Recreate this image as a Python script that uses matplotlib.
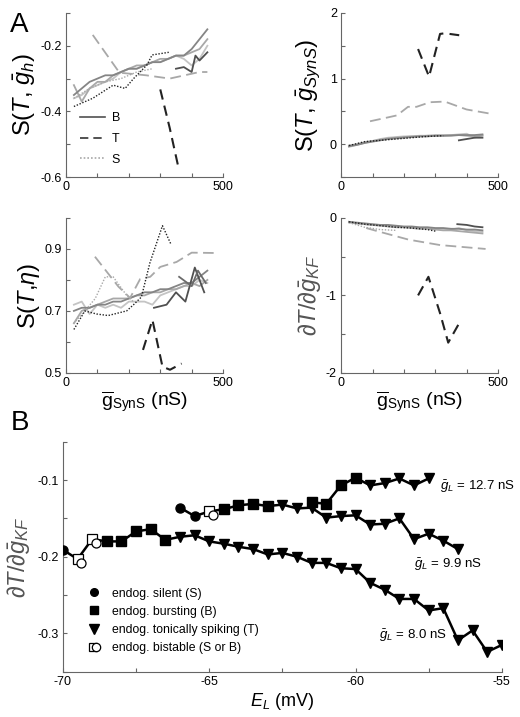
import numpy as np
import matplotlib
matplotlib.use("Agg")
import matplotlib.pyplot as plt
from matplotlib.legend_handler import HandlerTuple
from matplotlib.lines import Line2D

plt.rcParams['font.family'] = ['Liberation Sans', 'DejaVu Sans']
plt.rcParams['mathtext.fontset'] = 'custom'
plt.rcParams['mathtext.rm'] = 'Liberation Sans'
plt.rcParams['mathtext.it'] = 'Liberation Sans:italic'
plt.rcParams['mathtext.bf'] = 'Liberation Sans:bold'

# ---------------- panel A data (gSynS grid, nS) ----------------
xg = np.arange(25, 451, 25)

# S(T, gh)
gh_b1 = [-0.35, -0.33, -0.31, -0.30, -0.29, -0.29, -0.28, -0.27, -0.27, -0.26, -0.25, -0.25, -0.24, -0.23, -0.23, -0.21, -0.18, -0.15]
gh_b2 = [-0.32, -0.37, -0.33, -0.31, -0.31, -0.29, -0.28, -0.27, -0.26, -0.26, -0.25, -0.24, -0.24, -0.23, -0.23, -0.22, -0.21, -0.18]
gh_b3 = [-0.36, -0.35, -0.33, -0.32, -0.31, -0.30, -0.28, -0.27, -0.27, -0.26, -0.25, -0.25, -0.24, -0.23, -0.24, -0.26, -0.24, -0.20]
gh_b4_x = [350, 375, 400, 412, 425, 450]
gh_b4 = [-0.27, -0.265, -0.28, -0.23, -0.245, -0.22]
gh_t1_x = [85, 170, 255, 330, 425, 450]
gh_t1 = [-0.167, -0.282, -0.29, -0.30, -0.28, -0.28]
gh_t2_x = [300, 330, 360]
gh_t2 = [-0.333, -0.45, -0.58]
gh_s1_x = [25, 85, 150, 188, 215, 258, 274, 327]
gh_s1 = [-0.385, -0.36, -0.32, -0.33, -0.30, -0.258, -0.228, -0.22]
gh_s2_x = [25, 75, 125, 175, 225, 275]
gh_s2 = [-0.36, -0.33, -0.31, -0.30, -0.28, -0.27]

# S(T, gSynS)
gs_b1 = [-0.03, -0.01, 0.02, 0.04, 0.06, 0.08, 0.09, 0.10, 0.11, 0.12, 0.12, 0.13, 0.13, 0.13, 0.14, 0.14, 0.14, 0.15]
gs_b2 = [-0.02, 0.00, 0.03, 0.05, 0.07, 0.09, 0.10, 0.11, 0.12, 0.12, 0.13, 0.13, 0.13, 0.14, 0.14, 0.13, 0.12, 0.13]
gs_b3 = [-0.04, -0.01, 0.02, 0.05, 0.08, 0.10, 0.11, 0.12, 0.12, 0.13, 0.13, 0.14, 0.14, 0.14, 0.15, 0.16, 0.10, 0.14]
gs_b4_x = [375, 400, 425, 450]
gs_b4 = [0.06, 0.08, 0.10, 0.10]
gs_t1_x = [92, 150, 178, 213, 240, 283, 330, 399, 470]
gs_t1 = [0.35, 0.41, 0.44, 0.57, 0.57, 0.64, 0.65, 0.53, 0.47]
gs_t2_x = [245, 280, 315, 330, 376]
gs_t2 = [1.45, 1.03, 1.68, 1.69, 1.66]
gs_s1_x = [25, 75, 125, 175, 225, 275, 325]
gs_s1 = [-0.02, 0.04, 0.06, 0.08, 0.10, 0.12, 0.13]

# S(T, eta)
eta_b1 = [0.70, 0.71, 0.71, 0.72, 0.72, 0.73, 0.73, 0.74, 0.75, 0.76, 0.76, 0.77, 0.77, 0.78, 0.79, 0.79, 0.81, 0.83]
eta_b2 = [0.66, 0.70, 0.71, 0.72, 0.73, 0.74, 0.74, 0.74, 0.75, 0.75, 0.76, 0.76, 0.77, 0.77, 0.78, 0.79, 0.78, 0.80]
eta_b3 = [0.72, 0.73, 0.69, 0.72, 0.71, 0.72, 0.71, 0.73, 0.73, 0.73, 0.72, 0.75, 0.76, 0.77, 0.78, 0.78, 0.80, 0.79]
eta_b4_x = [280, 320, 350, 380, 410, 440]
eta_b4 = [0.71, 0.72, 0.76, 0.73, 0.84, 0.76]
eta_b5_x = [360, 400, 420, 445]
eta_b5 = [0.81, 0.78, 0.83, 0.79]
eta_t1_x = [92, 140, 167, 204, 236, 268, 300, 352, 400, 470]
eta_t1 = [0.875, 0.813, 0.778, 0.742, 0.803, 0.81, 0.842, 0.858, 0.888, 0.887]
eta_t2_x = [245, 275, 307, 331, 368]
eta_t2 = [0.574, 0.671, 0.52, 0.51, 0.53]
eta_s1_x = [25, 60, 97, 134, 193, 215, 240, 267, 307, 335]
eta_s1 = [0.64, 0.70, 0.69, 0.685, 0.70, 0.72, 0.745, 0.855, 0.975, 0.913]
eta_s2_x = [25, 60, 93, 125, 150, 193, 214]
eta_s2 = [0.66, 0.70, 0.74, 0.81, 0.81, 0.75, 0.73]

# dT/dgKF
kf_b1 = [-0.05, -0.06, -0.07, -0.08, -0.09, -0.09, -0.10, -0.11, -0.11, -0.12, -0.12, -0.13, -0.13, -0.14, -0.14, -0.15, -0.15, -0.16]
kf_b2 = [-0.05, -0.07, -0.08, -0.09, -0.10, -0.11, -0.12, -0.12, -0.13, -0.14, -0.14, -0.15, -0.16, -0.16, -0.17, -0.18, -0.19, -0.20]
kf_b3 = [-0.06, -0.07, -0.08, -0.09, -0.09, -0.10, -0.11, -0.12, -0.12, -0.13, -0.13, -0.14, -0.14, -0.15, -0.13, -0.16, -0.17, -0.18]
kf_b4_x = [370, 400, 425, 450]
kf_b4 = [-0.08, -0.09, -0.11, -0.12]
kf_t1_x = [80, 115, 215, 315, 460]
kf_t1 = [-0.13, -0.17, -0.28, -0.35, -0.40]
kf_t2_x = [245, 278, 315, 341, 373]
kf_t2 = [-1.0, -0.76, -1.23, -1.61, -1.38]
kf_s1_x = [25, 75, 125, 175, 225, 275, 300]
kf_s1 = [-0.05, -0.08, -0.10, -0.12, -0.13, -0.15, -0.17]
kf_s2_x = [25, 75, 125, 175]
kf_s2 = [-0.06, -0.12, -0.15, -0.16]

# ---------------- panel B data ----------------
el_80 = np.arange(-70, -54.9, 0.5)
dT_80 = [-0.191, -0.203, -0.177, -0.180, -0.180, -0.167, -0.164, -0.178, -0.174, -0.172,
         -0.180, -0.183, -0.187, -0.190, -0.197, -0.195, -0.200, -0.208, -0.208, -0.215,
         -0.216, -0.234, -0.243, -0.255, -0.255, -0.270, -0.267, -0.309, -0.296, -0.324, -0.315]
st_80 = ['S', 'X', 'X'] + ['B'] * 5 + ['T'] * 23

el_99 = np.arange(-66, -56.4, 0.5)
dT_99 = [-0.136, -0.147, -0.141, -0.138, -0.133, -0.131, -0.134, -0.132, -0.137, -0.136,
         -0.149, -0.147, -0.146, -0.158, -0.157, -0.150, -0.177, -0.170, -0.179, -0.190]
st_99 = ['S', 'S', 'X'] + ['B'] * 4 + ['T'] * 13

el_127 = np.arange(-61.5, -57.4, 0.5)
dT_127 = [-0.129, -0.131, -0.107, -0.097, -0.107, -0.104, -0.098, -0.107, -0.098]
st_127 = ['B'] * 4 + ['T'] * 5

gl_labels = ['12.7', '9.9', '8.0']

# ---------------- figure ----------------
fig = plt.figure(figsize=(5.2, 7.17), dpi=100)

ax1 = fig.add_axes([0.127, 0.753, 0.302, 0.229])
ax2 = fig.add_axes([0.656, 0.753, 0.302, 0.229])
ax3 = fig.add_axes([0.127, 0.480, 0.302, 0.216])
ax4 = fig.add_axes([0.656, 0.480, 0.302, 0.216])
axB = fig.add_axes([0.121, 0.063, 0.844, 0.321])

spine_c = '#666666'
for ax in [ax1, ax2, ax3, ax4, axB]:
    ax.spines['top'].set_visible(False)
    ax.spines['right'].set_visible(False)
    ax.spines['left'].set_color(spine_c)
    ax.spines['bottom'].set_color(spine_c)
    ax.tick_params(direction='in', length=3, width=0.8, color=spine_c, labelsize=9, pad=3)

c_dark = '#505050'
c_mid = '#858585'
c_light = '#a8a8a8'
c_pale = '#c4c4c4'
lw = 1.3


def draw_A(ax, b1, b2, b3, b4x, b4, t1x, t1, t2x, t2, s1x, s1, s2x=None, s2=None):
    ax.plot(xg, b3, color=c_pale, lw=lw)
    ax.plot(xg, b2, color=c_light, lw=lw)
    ax.plot(xg, b1, color=c_mid, lw=lw)
    ax.plot(b4x, b4, color=c_dark, lw=lw)
    if s2x is not None:
        ax.plot(s2x, s2, color=c_light, lw=1.0, ls=(0, (1, 1.2)))
    ax.plot(t1x, t1, color=c_light, lw=lw, ls=(0, (6, 3)))
    ax.plot(t2x, t2, color='#222222', lw=1.5, ls=(0, (5, 3)))
    ax.plot(s1x, s1, color='#222222', lw=1.0, ls=(0, (1, 1.2)))
    ax.set_xlim(0, 500)
    ax.set_xticks(np.arange(0, 501, 100))
    ax.set_xticklabels(['0', '', '', '', '', '500'])


draw_A(ax1, gh_b1, gh_b2, gh_b3, gh_b4_x, gh_b4, gh_t1_x, gh_t1, gh_t2_x, gh_t2, gh_s1_x, gh_s1, gh_s2_x, gh_s2)
draw_A(ax2, gs_b1, gs_b2, gs_b3, gs_b4_x, gs_b4, gs_t1_x, gs_t1, gs_t2_x, gs_t2, gs_s1_x, gs_s1)
draw_A(ax3, eta_b1, eta_b2, eta_b3, eta_b4_x, eta_b4, eta_t1_x, eta_t1, eta_t2_x, eta_t2, eta_s1_x, eta_s1, eta_s2_x, eta_s2)
ax3.plot(eta_b5_x, eta_b5, color='#6a6a6a', lw=lw)
draw_A(ax4, kf_b1, kf_b2, kf_b3, kf_b4_x, kf_b4, kf_t1_x, kf_t1, kf_t2_x, kf_t2, kf_s1_x, kf_s1, kf_s2_x, kf_s2)

ax1.set_ylim(-0.6, -0.1)
ax1.set_yticks(np.arange(-0.6, -0.05, 0.1))
ax1.set_yticklabels(['-0.6', '', '-0.4', '', '-0.2', ''])
ax2.set_ylim(-0.5, 2)
ax2.set_yticks(np.arange(-0.5, 2.01, 0.5))
ax2.set_yticklabels(['', '0', '', '1', '', '2'])
ax3.set_ylim(0.5, 1.0)
ax3.set_yticks(np.arange(0.5, 1.01, 0.1))
ax3.set_yticklabels(['0.5', '', '0.7', '', '0.9', ''])
ax4.set_ylim(-2, 0)
ax4.set_yticks(np.arange(-2, 0.01, 0.5))
ax4.set_yticklabels(['-2', '', '-1', '', '0'])

ax1.set_ylabel(r'S($T$, $\bar{g}_h$)', fontsize=17, labelpad=2)
ax2.set_ylabel(r'S($T$, $\bar{g}_{SynS}$)', fontsize=17, labelpad=6)
ax3.set_ylabel(r'S($T$,$\eta$)', fontsize=17, labelpad=2)
ax4.set_ylabel(r'$\partial T/\partial\bar{g}_{KF}$', fontsize=17, labelpad=2, color='#555555')
for ax in [ax3, ax4]:
    ax.set_xlabel(r'$\overline{\mathrm{g}}_{\mathrm{SynS}}$ (nS)', fontsize=14, labelpad=1)

leg_h = [Line2D([], [], color=c_dark, lw=1.2),
         Line2D([], [], color='#333333', lw=1.2, ls=(0, (5, 3))),
         Line2D([], [], color=c_light, lw=1.2, ls=(0, (1, 1.2)))]
ax1.legend(leg_h, ['B', 'T', 'S'], loc='lower left', bbox_to_anchor=(0.02, 0.0),
           frameon=False, fontsize=9, handlelength=2.0, labelspacing=0.7, handletextpad=0.5)

fig.text(0.02, 0.965, 'A', fontsize=20, ha='left', va='center')
fig.text(0.02, 0.41, 'B', fontsize=20, ha='left', va='center')

# ---------------- panel B ----------------
mk = {'S': dict(marker='o', mfc='k', mec='k', ms=6.5),
      'B': dict(marker='s', mfc='k', mec='k', ms=6.5),
      'T': dict(marker='v', mfc='k', mec='k', ms=7.5)}

for el, dT, st in [(el_80, dT_80, st_80), (el_99, dT_99, st_99), (el_127, dT_127, st_127)]:
    el = np.asarray(el)
    dT = np.asarray(dT)
    st = np.asarray(st)
    axB.plot(el, dT, color='k', lw=1.8, zorder=2)
    for s, kw in mk.items():
        m = st == s
        axB.plot(el[m], dT[m], ls='none', zorder=3, **kw)
    m = st == 'X'
    axB.plot(el[m], dT[m], ls='none', marker='s', mfc='white', mec='k', ms=7, mew=0.9, zorder=3)
    axB.plot(el[m] + 0.12, dT[m] - 0.005, ls='none', marker='o', mfc='white', mec='k', ms=6.5, mew=0.9, zorder=4)

axB.text(-57.1, -0.1087, r'$\bar{g}_L$ = %s nS' % gl_labels[0], fontsize=9.5, va='center')
axB.text(-58.0, -0.2104, r'$\bar{g}_L$ = %s nS' % gl_labels[1], fontsize=9.5, va='center')
axB.text(-59.2, -0.303, r'$\bar{g}_L$ = %s nS' % gl_labels[2], fontsize=9.5, va='center')

axB.set_xlim(-70, -55)
axB.set_xticks(np.arange(-70, -54.9, 2.5))
axB.set_xticklabels(['-70', '', '-65', '', '-60', '', '-55'])
axB.set_ylim(-0.35, -0.05)
axB.set_yticks(np.arange(-0.35, -0.049, 0.05))
axB.set_yticklabels(['', '-0.3', '', '-0.2', '', '-0.1', ''])
axB.set_xlabel(r'$E_L$ (mV)', fontsize=13, labelpad=2)
axB.set_ylabel(r'$\partial T/\partial\bar{g}_{KF}$', fontsize=17, labelpad=4, color='#555555')

h_s = Line2D([], [], ls='none', marker='o', mfc='k', mec='k', ms=5.5)
h_b = Line2D([], [], ls='none', marker='s', mfc='k', mec='k', ms=5.5)
h_t = Line2D([], [], ls='none', marker='v', mfc='k', mec='k', ms=6.5)
h_x1 = Line2D([], [], ls='none', marker='s', mfc='white', mec='k', ms=6, mew=0.9)
h_x2 = Line2D([], [], ls='none', marker='o', mfc='white', mec='k', ms=6, mew=0.9)
axB.legend([h_s, h_b, h_t, (h_x1, h_x2)],
           ['endog. silent (S)', 'endog. bursting (B)', 'endog. tonically spiking (T)',
            'endog. bistable (S or B)'],
           handler_map={tuple: HandlerTuple(ndivide=None, pad=-0.7)},
           loc='lower left', bbox_to_anchor=(0.03, 0.03), frameon=False, fontsize=8.8,
           handlelength=1.2, labelspacing=0.5, handletextpad=0.8)

fig.savefig('out.png', dpi=100)
